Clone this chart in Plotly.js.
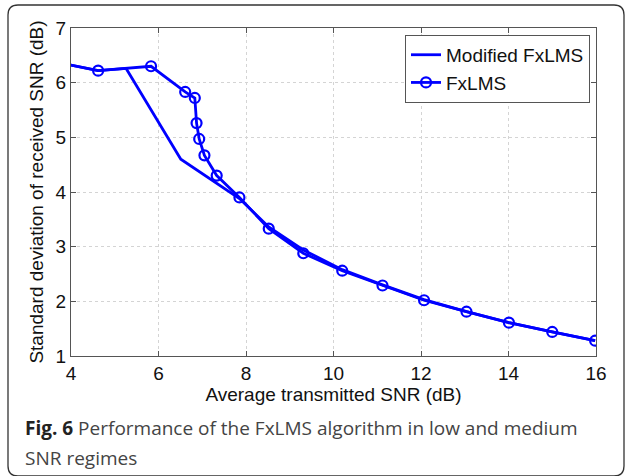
<!DOCTYPE html>
<html>
<head>
<meta charset="utf-8">
<script src="https://cdn.plot.ly/plotly-3.0.1.min.js"></script>
<style>html,body{margin:0;padding:0;background:#fff;}#chart{width:625px;height:476px;}</style>
</head>
<body>
<div id="chart"></div>
<script>
// Data
const fxlmsX = [3.7, 4.62, 5.83, 6.61, 6.83, 6.87, 6.93, 7.05, 7.33, 7.85, 8.52, 9.31, 10.20, 11.12, 12.07, 13.04, 14.01, 15.00, 15.98];
const fxlmsY = [6.37, 6.22, 6.30, 5.83, 5.72, 5.26, 4.97, 4.67, 4.30, 3.90, 3.33, 2.88, 2.56, 2.29, 2.02, 1.81, 1.61, 1.44, 1.28];
const modX = [3.7, 4.62, 5.26, 6.51, 7.85, 8.52, 9.31, 10.20, 11.12, 12.07, 13.04, 14.01, 15.00, 15.98];
const modY = [6.37, 6.22, 6.26, 4.60, 3.88, 3.36, 2.94, 2.58, 2.30, 2.03, 1.81, 1.61, 1.44, 1.28];
const xTicks = [4, 6, 8, 10, 12, 14, 16];
const yTicks = [1, 2, 3, 4, 5, 6, 7];
const seriesNames = ["Modified FxLMS", "FxLMS"];
const xTitle = "Average transmitted SNR (dB)";
const yTitle = "Standard deviation of received SNR (dB)";

const blue = "#0000ff";
const sans = '"Liberation Sans", Arial, sans-serif';
const traces = [
  {x: modX, y: modY, name: seriesNames[0], mode: "lines", type: "scatter",
   line: {color: blue, width: 2.8}},
  {x: fxlmsX, y: fxlmsY, name: seriesNames[1], mode: "lines+markers", type: "scatter",
   line: {color: blue, width: 2.8},
   marker: {symbol: "circle-open", size: 10, color: blue, line: {width: 2.2, color: blue}}}
];

const axisCommon = {
  showline: true, linecolor: "#555", linewidth: 1, mirror: "ticks",
  ticks: "inside", ticklen: 5, tickcolor: "#555",
  showgrid: true, gridcolor: "#d4d4d4", griddash: "dot", gridwidth: 1,
  zeroline: false,
  tickfont: {family: sans, size: 19, color: "#111"}
};

const layout = {
  width: 625, height: 476,
  margin: {l: 71, r: 29, t: 28, b: 120},
  paper_bgcolor: "#fff", plot_bgcolor: "#fff",
  showlegend: true,
  legend: {x: 0.9886, y: 0.979, xanchor: "right", yanchor: "top",
    bgcolor: "#fff", bordercolor: "#555", borderwidth: 1,
    font: {family: sans, size: 19, color: "#111"},
    tracegroupgap: 0, itemwidth: 30},
  xaxis: Object.assign({}, axisCommon, {range: [4, 16], tickvals: xTicks, ticktext: xTicks.map(String),
    title: {text: xTitle, standoff: 3, font: {family: sans, size: 19, color: "#111"}}}),
  yaxis: Object.assign({}, axisCommon, {range: [1, 7], tickvals: yTicks, ticktext: yTicks.map(String),
    title: {text: yTitle, standoff: 6, font: {family: sans, size: 19, color: "#111"}}}),
  shapes: [{type: "path", xref: "paper", yref: "paper",
    path: roundedRect(8, 5, 624, 476, 10),
    line: {color: "#333", width: 1.3}, fillcolor: "rgba(0,0,0,0)", layer: "below"}],
  annotations: [
    {xref: "paper", yref: "paper", x: px2x(23), y: py2y(428), xanchor: "left", yanchor: "middle",
     showarrow: false, align: "left",
     text: '<b><span style="color:#222">Fig. 6</span></b> Performance of the FxLMS algorithm in low and medium',
     font: {family: "Open Sans", size: 19, color: "#444"}},
    {xref: "paper", yref: "paper", x: px2x(23), y: py2y(458), xanchor: "left", yanchor: "middle",
     showarrow: false, align: "left",
     text: "SNR regimes",
     font: {family: "Open Sans", size: 19, color: "#444"}}
  ]
};

function px2x(px) { return (px - 71) / 525; }
function py2y(py) { return 1 - (py - 28) / 328; }
function roundedRect(x0, y0, x1, y1, r) {
  const X = v => px2x(v), Y = v => py2y(v);
  return `M ${X(x0 + r)} ${Y(y0)} L ${X(x1 - r)} ${Y(y0)} Q ${X(x1)} ${Y(y0)} ${X(x1)} ${Y(y0 + r)} ` +
    `L ${X(x1)} ${Y(y1 - r)} Q ${X(x1)} ${Y(y1)} ${X(x1 - r)} ${Y(y1)} L ${X(x0 + r)} ${Y(y1)} ` +
    `Q ${X(x0)} ${Y(y1)} ${X(x0)} ${Y(y1 - r)} L ${X(x0)} ${Y(y0 + r)} Q ${X(x0)} ${Y(y0)} ${X(x0 + r)} ${Y(y0)} Z`;
}

Plotly.newPlot("chart", traces, layout, {displayModeBar: false, staticPlot: true});
</script>
</body>
</html>
